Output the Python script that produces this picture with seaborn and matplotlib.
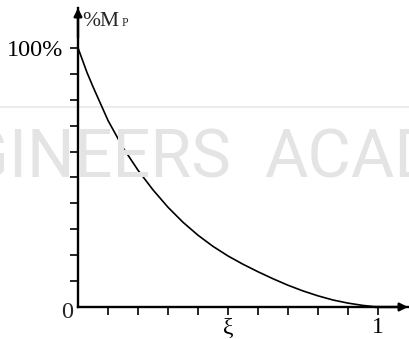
import matplotlib
matplotlib.use("Agg")
import matplotlib.pyplot as plt
import seaborn as sns
import pandas as pd

# data
xi = [0, 0.03, 0.05, 0.1, 0.15, 0.2, 0.25, 0.3, 0.35, 0.4, 0.45, 0.5,
      0.55, 0.6, 0.65, 0.7, 0.75, 0.8, 0.85, 0.9, 0.95, 1.0]
mp_pct = [100, 90.5, 85, 72, 61.5, 52.8, 45.2, 38.5, 32.7, 27.7, 23.4, 19.7,
          16.5, 13.6, 10.9, 8.4, 6.2, 4.3, 2.7, 1.5, 0.6, 0]
x_ticks = [0.1, 0.2, 0.3, 0.4, 0.5, 0.6, 0.7, 0.8, 0.9, 1.0]
x_ticklabels = ["", "", "", "", "ξ", "", "", "", "", "1"]
y_ticks = [10, 20, 30, 40, 50, 60, 70, 80, 90, 100]
y_ticklabels = ["", "", "", "", "", "", "", "", "", "100%"]

sns.set_style("white")
plt.rcParams["font.family"] = ["Liberation Serif", "DejaVu Serif"]

W, H = 409, 339
fig = plt.figure(figsize=(W / 100, H / 100), dpi=100)

# watermark
wm = "#e4e4e4"
fig.add_artist(plt.Line2D([0, 1], [1 - 107 / H, 1 - 107 / H], color="#ececec",
                          lw=1.5, transform=fig.transFigure, zorder=0))
fig.text(231 / W, 1 - 178 / H, "ENGINEERS", color=wm, fontsize=48,
         family="Roboto", ha="right", va="baseline", zorder=0)
fig.text(264 / W, 1 - 178 / H, "ACADEMY", color=wm, fontsize=48,
         family="Roboto", ha="left", va="baseline", zorder=0)

ax = fig.add_axes([78 / W, (H - 307) / H, 330 / W, 299 / H])
ax.set_facecolor("none")

df = pd.DataFrame({"xi": xi, "mp": mp_pct})
sns.lineplot(data=df, x="xi", y="mp", ax=ax, color="black", lw=1.2)

ax.set_xlim(0, 1.1)
ax.set_ylim(0, 115.4)
for s in ["top", "right"]:
    ax.spines[s].set_visible(False)
for s in ["left", "bottom"]:
    ax.spines[s].set_linewidth(1.7)
    ax.spines[s].set_color("black")

ax.set_xticks(x_ticks)
ax.set_xticklabels(x_ticklabels, fontsize=17)
ax.set_yticks(y_ticks)
ax.set_yticklabels(y_ticklabels, fontsize=17.5)
ax.tick_params(axis="both", direction="out", length=5.5, width=1.2,
               color="black", labelcolor="black", bottom=True, left=True)
ax.tick_params(axis="y", pad=5)
ax.tick_params(axis="x", pad=2)
ax.set_xlabel("")
ax.set_ylabel("")

# axis arrows
ax.annotate("", xy=(0, 1), xytext=(0, 0.9), xycoords="axes fraction",
            arrowprops=dict(arrowstyle="-|>", color="black", lw=1.7,
                            mutation_scale=12, shrinkA=0, shrinkB=0))
ax.annotate("", xy=(1, 0), xytext=(0.9, 0), xycoords="axes fraction",
            arrowprops=dict(arrowstyle="-|>", color="black", lw=1.7,
                            mutation_scale=12, shrinkA=0, shrinkB=0))

ax.text(-0.037, -4.2, "0", fontsize=17.5, ha="center", va="baseline",
        clip_on=False)
ax.text(0.013, 108.6, "%M", fontsize=15.5, ha="left", va="baseline",
        clip_on=False)
ax.text(0.145, 108.3, "P", fontsize=8.5, ha="left", va="baseline",
        clip_on=False)

fig.savefig("out.png", dpi=100)
